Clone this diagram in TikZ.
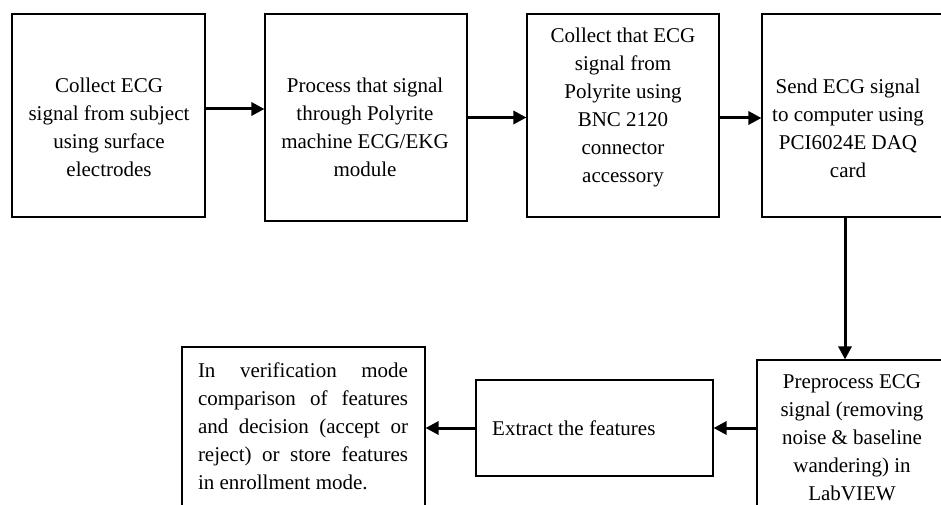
\documentclass[tikz,border=0pt]{standalone}
\usepackage{fontspec}
\setmainfont{Liberation Serif}
\usetikzlibrary{arrows.meta,calc}
\tikzset{
  box/.style={draw=black, line width=1.1pt, rectangle, inner sep=0pt},
  txt/.style={align=center, inner sep=0pt, font=\fontsize{21}{28}\selectfont},
  arr/.style={line width=3pt, -{Triangle[length=13pt,width=13pt]}}
}
\newcommand{\jline}[1]{\makebox[210pt][s]{#1}}
\begin{document}
\begin{tikzpicture}[x=1pt,y=-1pt]
\useasboundingbox (0,0) rectangle (941,505);
\clip (0,0) rectangle (941,505);
\fill[white] (0,0) rectangle (941,505);
% boxes
\node[box, minimum width=193pt, minimum height=203pt] (b1) at (108.5,115.5) {};
\node[box, minimum width=202pt, minimum height=207pt] (b2) at (366,117.5) {};
\node[box, minimum width=192pt, minimum height=203pt] (b3) at (623,115.5) {};
\node[box, minimum width=183pt, minimum height=203pt] (b4) at (853.5,115.5) {};
\node[box, minimum width=193pt, minimum height=170pt] (b5) at (853.5,445) {};
\node[box, minimum width=237pt, minimum height=96pt] (b6) at (594.5,428) {};
\node[box, minimum width=243pt, minimum height=180pt] (b7) at (303.5,437) {};
% texts
\node[txt] (t1) at (109,127) {Collect ECG\\signal from subject\\using surface\\electrodes};
\node[txt] (t2) at (365,127) {Process that signal\\through Polyrite\\machine ECG/EKG\\module};
\node[txt] (t3) at (623,107) {Collect that ECG\\signal from\\Polyrite using\\BNC 2120\\connector\\accessory};
\node[txt] (t4) at (848,128.5) {Send ECG signal\\to computer using\\PCI6024E DAQ\\card};
\node[txt] (t5) at (852,438) {Preprocess ECG\\signal (removing\\noise \& baseline\\wandering) in\\LabVIEW};
\node[txt, anchor=west] (t6) at (492,428) {Extract the features};
\node[txt, align=left] (t7) at (303,426) {\jline{In verification mode}\\\jline{comparison of features}\\\jline{and decision (accept or}\\\jline{reject) or store features}\\in enrollment mode.};
% arrows
\draw[arr] ([yshift=6.5pt]b1.east) -- ([yshift=6.5pt]b1.east -| b2.west);
\draw[arr] (b2.east) -- (b2.east -| b3.west);
\draw[arr] ([yshift=-2.5pt]b3.east) -- ([yshift=-2.5pt]b3.east -| b4.west);
\draw[arr] ([xshift=-8.5pt]b4.south) -- ([xshift=-8.5pt]b4.south |- b5.north);
\draw[arr] (b6.east -| b5.west) -- (b6.east);
\draw[arr] (b6.west) -- (b6.west -| b7.east);
\end{tikzpicture}
\end{document}
